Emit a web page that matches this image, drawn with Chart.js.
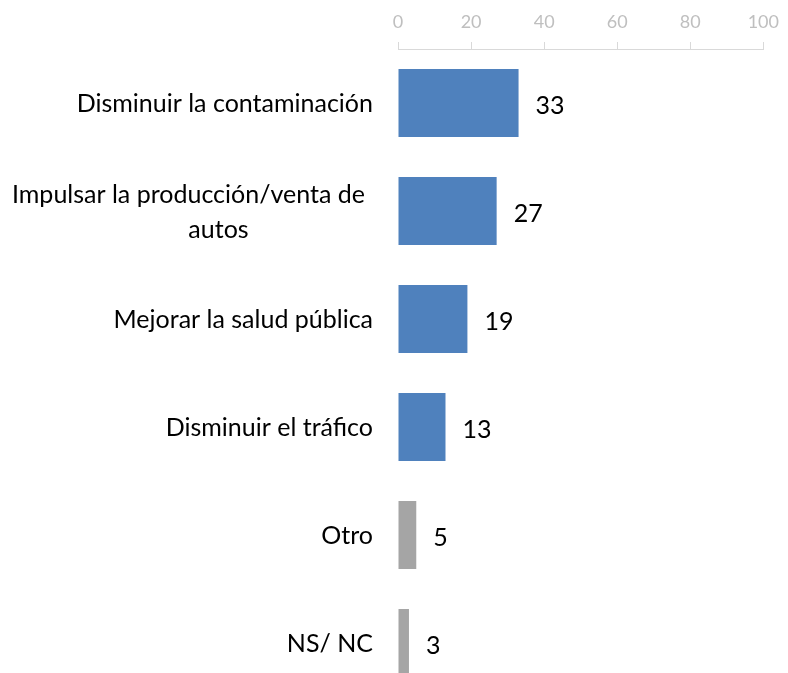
<!DOCTYPE html>
<html>
<head>
<meta charset="utf-8">
<style>
  html, body { margin: 0; padding: 0; background: #ffffff; overflow: hidden; }
  #wrap { width: 788px; height: 700px; position: relative; }
</style>
<script src="https://cdn.jsdelivr.net/npm/chart.js@4/dist/chart.umd.min.js"></script>
</head>
<body>
<div id="wrap"><canvas id="c" width="788" height="700"></canvas></div>
<script>
const categories = [
  ["Disminuir la contaminación"],
  ["Impulsar la producción/venta de", "autos"],
  ["Mejorar la salud pública"],
  ["Disminuir el tráfico"],
  ["Otro"],
  ["NS/ NC"]
];
const values = [33, 27, 19, 13, 5, 3];
const xTicks = [0, 20, 40, 60, 80, 100];
const mainCount = 4; // first four answers in blue, the rest in grey

const FONT = "Lato, Carlito, Calibri, 'Open Sans', sans-serif";

const categoryLabels = {
  id: 'categoryLabels',
  afterDraw(chart) {
    const ctx = chart.ctx;
    const ys = chart.scales.y;
    const right = chart.chartArea.left - 25;
    ctx.save();
    ctx.fillStyle = '#000000';
    ctx.font = '25px ' + FONT;
    ctx.textBaseline = 'middle';
    categories.forEach((lines, i) => {
      const yc = ys.getPixelForValue(i) + 1;
      const lh = 35;
      if (lines.length === 1) {
        ctx.textAlign = 'right';
        ctx.fillText(lines[0], right, yc);
      } else {
        const w = Math.max(...lines.map(l => ctx.measureText(l).width));
        const cx = right - 8 - w / 2;
        ctx.textAlign = 'center';
        lines.forEach((l, k) => {
          const y = yc + (k - (lines.length - 1) / 2) * lh;
          ctx.fillText(l, cx + (k > 0 ? 30 : 0), y);
        });
      }
    });
    ctx.restore();
  }
};

const valueLabels = {
  id: 'valueLabels',
  afterDatasetsDraw(chart) {
    const ctx = chart.ctx;
    const meta = chart.getDatasetMeta(0);
    ctx.save();
    ctx.fillStyle = '#000000';
    ctx.font = '25px ' + FONT;
    ctx.textAlign = 'left';
    ctx.textBaseline = 'middle';
    meta.data.forEach((bar, i) => {
      ctx.fillText(String(values[i]), bar.x + 17, bar.y + 3);
    });
    ctx.restore();
  }
};

new Chart(document.getElementById('c'), {
  type: 'bar',
  data: {
    labels: categories.map(l => l.join(' ')),
    datasets: [{
      data: values,
      backgroundColor: ctx => ctx.dataIndex < mainCount ? '#4F81BD' : '#A5A5A5',
      borderWidth: 0,
      barPercentage: 0.63,
      categoryPercentage: 1.0
    }]
  },
  options: {
    indexAxis: 'y',
    responsive: false,
    animation: false,
    layout: { padding: { left: 398, right: 19, top: 0, bottom: 3 } },
    plugins: { legend: { display: false }, tooltip: { enabled: false } },
    scales: {
      x: {
        position: 'top',
        min: 0,
        max: 100,
        afterBuildTicks: s => { s.ticks = xTicks.map(v => ({ value: v })); },
        afterFit: s => { s.height = 49; },
        ticks: { color: '#BFBFBF', font: { family: FONT, size: 18 }, padding: 9 },
        grid: { display: true, drawOnChartArea: false, drawTicks: true, tickLength: 7, color: '#D9D9D9', lineWidth: 1 },
        border: { display: true, color: '#D9D9D9', width: 1 }
      },
      y: {
        display: false,
        grid: { display: false }
      }
    }
  },
  plugins: [categoryLabels, valueLabels]
});
</script>
</body>
</html>
